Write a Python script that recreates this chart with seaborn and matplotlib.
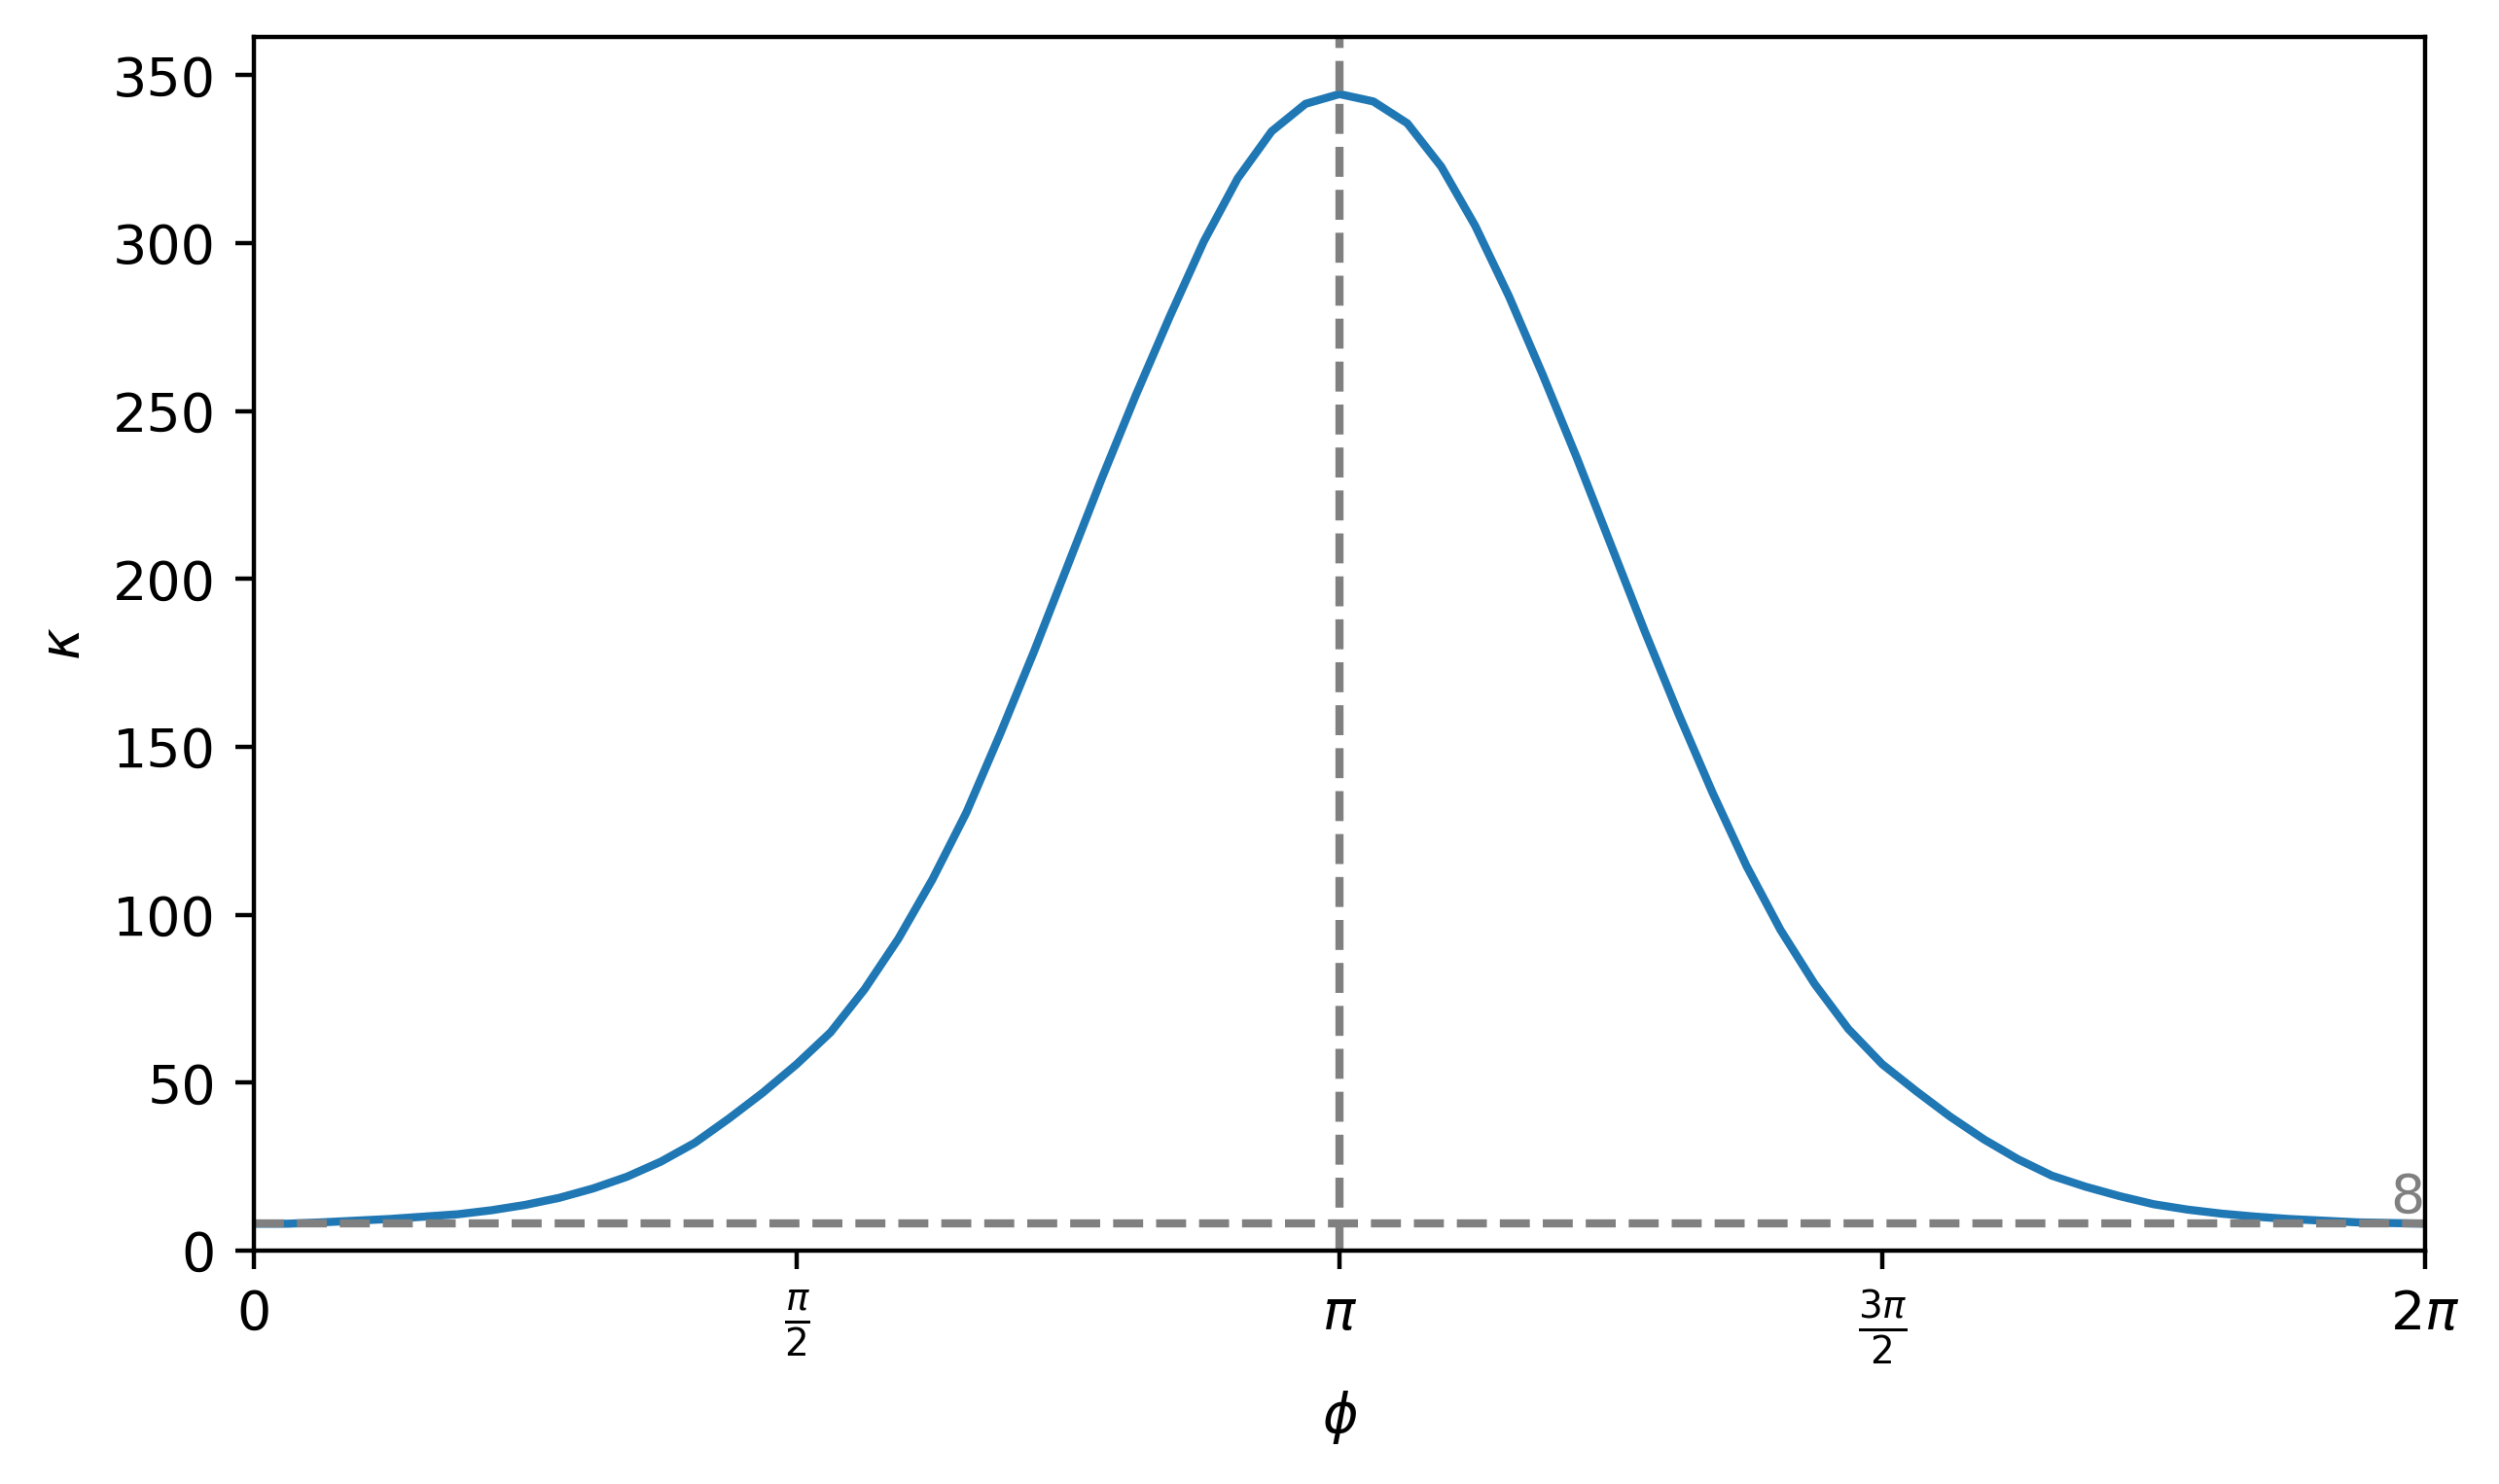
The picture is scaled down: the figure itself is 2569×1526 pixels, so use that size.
import numpy as np
import pandas as pd
import seaborn as sns
import matplotlib
matplotlib.use("Agg")
import matplotlib.pyplot as plt

# phi sample positions, in steps of pi/32 (0 .. 2pi)
phi_steps = list(range(65))
# kappa values at each step
kappa = [8.0, 8.0, 8.4, 8.9, 9.4, 10.1, 10.8, 12.0, 13.6, 15.7,
         18.5, 22.0, 26.5, 32.1, 39.3, 47.0, 55.5, 65.0, 77.8, 92.9,
         110.5, 130.4, 153.9, 178.5, 204.3, 230.1, 254.8, 278.2, 300.5, 319.3,
         333.3, 341.5, 344.4, 342.2, 335.7, 322.8, 305.2, 284.1, 260.6, 236.0,
         210.2, 184.4, 159.7, 136.3, 114.5, 95.5, 79.5, 66.0, 55.5, 47.5,
         39.9, 33.1, 27.2, 22.3, 19.0, 16.2, 13.8, 12.2, 11.0, 10.1,
         9.4, 8.9, 8.4, 8.2, 8.0]

kappa_min = 8
tick_pos = [0, np.pi / 2, np.pi, 3 * np.pi / 2, 2 * np.pi]
tick_labels = ["0", r"$\frac{\pi}{2}$", r"$\pi$", r"$\frac{3\pi}{2}$", r"$2\pi$"]

df = pd.DataFrame({"phi": np.array(phi_steps) * np.pi / 32, "kappa": kappa})

fig = plt.figure(figsize=(2569 / 400, 1526 / 400), dpi=400)
ax = fig.add_axes([0.1016, 0.1573, 0.8688, 0.818])

sns.lineplot(data=df, x="phi", y="kappa", ax=ax, color="#1f77b4", linewidth=1.5)
ax.axhline(kappa_min, color="gray", linestyle="--")
ax.axvline(np.pi, color="gray", linestyle="--")
ax.text(2 * np.pi, kappa_min, str(kappa_min), color="gray", ha="right", va="bottom")

ax.set_xlim(0, 2 * np.pi)
ax.set_ylim(0, 361.5)
ax.set_xticks(tick_pos)
ax.set_xticklabels(tick_labels)
ax.set_xlabel(r"$\phi$")
ax.set_ylabel(r"$\kappa$")

fig.savefig("out.png", dpi=400)
